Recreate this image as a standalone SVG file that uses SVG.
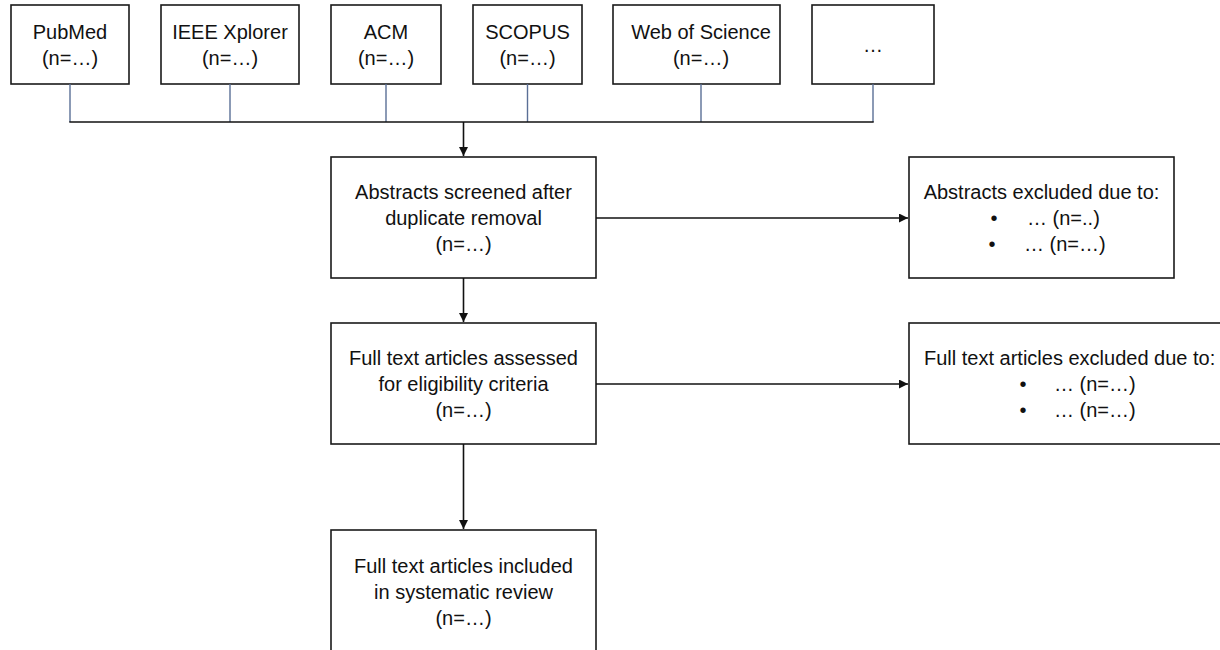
<svg xmlns="http://www.w3.org/2000/svg" width="1220" height="650" viewBox="0 0 1220 650">
  <style>
    .box { fill: #ffffff; stroke: #1a1a1a; stroke-width: 1.6; }
    .t { font-family: "Liberation Sans", Arial, sans-serif; font-size: 20px; fill: #111111; }
    .c { text-anchor: middle; }
    .feed { stroke: #5a6f96; stroke-width: 1.4; fill: none; }
    .link { stroke: #111111; stroke-width: 1.6; fill: none; }
  </style>
  <defs>
    <marker id="arrow" viewBox="0 0 10 10" refX="10" refY="5" markerWidth="9" markerHeight="9" markerUnits="userSpaceOnUse" orient="auto">
      <path d="M0,0 L10,5 L0,10 Z" fill="#111111"/>
    </marker>
  </defs>
  <rect width="1220" height="650" fill="#ffffff"/>

  <g id="pubmed">
    <rect class="box" x="11" y="5" width="118" height="79"/>
    <text class="t c" x="70" y="39">PubMed</text>
    <text class="t c" x="70" y="65">(n=…)</text>
  </g>
  <g id="ieee">
    <rect class="box" x="161" y="5" width="138" height="79"/>
    <text class="t c" x="230" y="39">IEEE Xplorer</text>
    <text class="t c" x="230" y="65">(n=…)</text>
  </g>
  <g id="acm">
    <rect class="box" x="331" y="5" width="110" height="79"/>
    <text class="t c" x="386" y="39">ACM</text>
    <text class="t c" x="386" y="65">(n=…)</text>
  </g>
  <g id="scopus">
    <rect class="box" x="473" y="5" width="109" height="79"/>
    <text class="t c" x="527.5" y="39">SCOPUS</text>
    <text class="t c" x="527.5" y="65">(n=…)</text>
  </g>
  <g id="wos">
    <rect class="box" x="613" y="5" width="167" height="79"/>
    <text class="t c" x="701" y="39">Web of Science</text>
    <text class="t c" x="701" y="65">(n=…)</text>
  </g>
  <g id="other">
    <rect class="box" x="812" y="5" width="122" height="79"/>
    <text class="t c" x="873" y="52">…</text>
  </g>

  <g id="screened">
    <rect class="box" x="331" y="157" width="265" height="121"/>
    <text class="t c" x="463.5" y="199">Abstracts screened after</text>
    <text class="t c" x="463.5" y="225">duplicate removal</text>
    <text class="t c" x="463.5" y="251">(n=…)</text>
  </g>
  <g id="abstracts-excluded">
    <rect class="box" x="909" y="157" width="265" height="121"/>
    <text class="t c" x="1041.5" y="199">Abstracts excluded due to:</text>
    <text class="t c" x="994" y="225">•</text>
    <text class="t" x="1027" y="225">… (n=..)</text>
    <text class="t c" x="992" y="251">•</text>
    <text class="t" x="1024" y="251">… (n=…)</text>
  </g>
  <g id="assessed">
    <rect class="box" x="331" y="323" width="265" height="121"/>
    <text class="t c" x="463.5" y="365">Full text articles assessed</text>
    <text class="t c" x="463.5" y="391">for eligibility criteria</text>
    <text class="t c" x="463.5" y="417">(n=…)</text>
  </g>
  <g id="fulltext-excluded">
    <rect class="box" x="909" y="323" width="330" height="121"/>
    <text class="t" x="924" y="365">Full text articles excluded due to:</text>
    <text class="t c" x="1023" y="391">•</text>
    <text class="t" x="1054" y="391">… (n=…)</text>
    <text class="t c" x="1023" y="417">•</text>
    <text class="t" x="1054" y="417">… (n=…)</text>
  </g>
  <g id="included">
    <rect class="box" x="331" y="530" width="265" height="140"/>
    <text class="t c" x="463.5" y="573">Full text articles included</text>
    <text class="t c" x="463.5" y="599">in systematic review</text>
    <text class="t c" x="463.5" y="625">(n=…)</text>
  </g>

  <g id="connectors">
    <line class="feed" x1="70" y1="84" x2="70" y2="122"/>
    <line class="feed" x1="230" y1="84" x2="230" y2="122"/>
    <line class="feed" x1="386" y1="84" x2="386" y2="122"/>
    <line class="feed" x1="527.5" y1="84" x2="527.5" y2="122"/>
    <line class="feed" x1="701" y1="84" x2="701" y2="122"/>
    <line class="feed" x1="873" y1="84" x2="873" y2="122"/>
    <line class="link" x1="69.3" y1="122" x2="873.7" y2="122"/>
    <line class="link" x1="463.5" y1="122" x2="463.5" y2="156" marker-end="url(#arrow)"/>
    <line class="link" x1="596" y1="218" x2="908" y2="218" marker-end="url(#arrow)"/>
    <line class="link" x1="463.5" y1="278" x2="463.5" y2="322" marker-end="url(#arrow)"/>
    <line class="link" x1="596" y1="384" x2="908" y2="384" marker-end="url(#arrow)"/>
    <line class="link" x1="463.5" y1="444" x2="463.5" y2="529" marker-end="url(#arrow)"/>
  </g>
</svg>
